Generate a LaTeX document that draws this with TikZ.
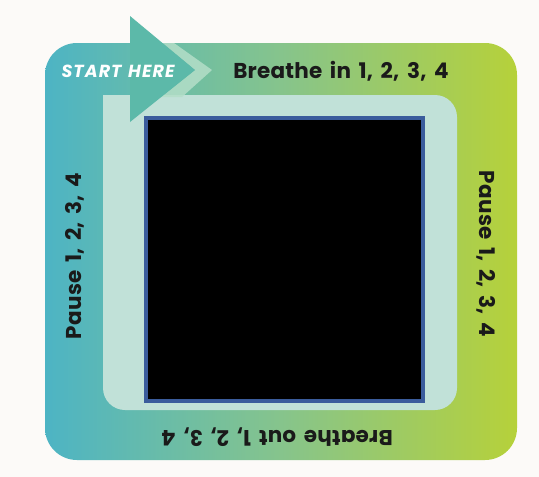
\documentclass[tikz,border=0pt]{standalone}
\usepackage{fontspec}
\setmainfont{Poppins}
\newfontfamily\lblfont{Poppins}[LetterSpace=1,WordSpace=1.6]
\newfontfamily\startfont{Poppins}[LetterSpace=6,WordSpace=1.3]
\definecolor{bgc}{HTML}{FCFAF8}
\definecolor{gleft}{HTML}{4DB4C4}
\definecolor{gmid}{HTML}{86C48C}
\definecolor{gright}{HTML}{B6D13A}
\definecolor{bandc}{HTML}{C1E1D8}
\definecolor{arrowc}{HTML}{5CB9A9}
\definecolor{chevc}{HTML}{B4DEC8}
\definecolor{framec}{HTML}{3A5C9C}
\definecolor{txtc}{HTML}{1A1A1A}
\tikzset{
  lbl/.style={font=\lblfont\bfseries\fontsize{21.5}{25}\selectfont, text=txtc, inner sep=0pt},
}
\begin{document}
\begin{tikzpicture}[x=1pt,y=-1pt]
\useasboundingbox (0,0) rectangle (539,477);
\fill[bgc] (0,0) rectangle (539,477);
% outer gradient frame
\shade[left color=gleft, right color=gright, middle color=gmid, rounded corners=32pt]
  (45,43) rectangle (517,460);
% inner light band
\fill[bandc] (103,95) -- (103,250) [rounded corners=22pt] -- (103,410) -- (457,410) -- (457,95) [sharp corners] -- (130,95) -- cycle;
% chevron gap
\fill[chevc, opacity=0.85] (162,43) -- (174,43) -- (212,70) -- (182,97) -- (161,97) -- (195,70) -- cycle;
% arrowhead
\fill[arrowc] (130,16) -- (195,70) -- (130,122) -- cycle;
% black square
\node (sq) [draw=framec, line width=3.5pt, fill=black, minimum width=277pt, minimum height=283pt, inner sep=0pt] at (284.5,259.5) {};
% labels
\node (start) [font=\startfont\bfseries\itshape\fontsize{17.5}{20}\selectfont, text=white, inner sep=0pt] at (118,71) {START HERE};
\node (in) [lbl] at (341,71) {Breathe in 1, 2, 3, 4};
\node (p1) [lbl, rotate=90] at (75,256) {Pause 1, 2, 3, 4};
\node (p2) [lbl, rotate=-90] at (486,254) {Pause 1, 2, 3, 4};
\node (out) [lbl, rotate=180] at (277,437) {Breathe out 1, 2, 3, 4};
\end{tikzpicture}
\end{document}
